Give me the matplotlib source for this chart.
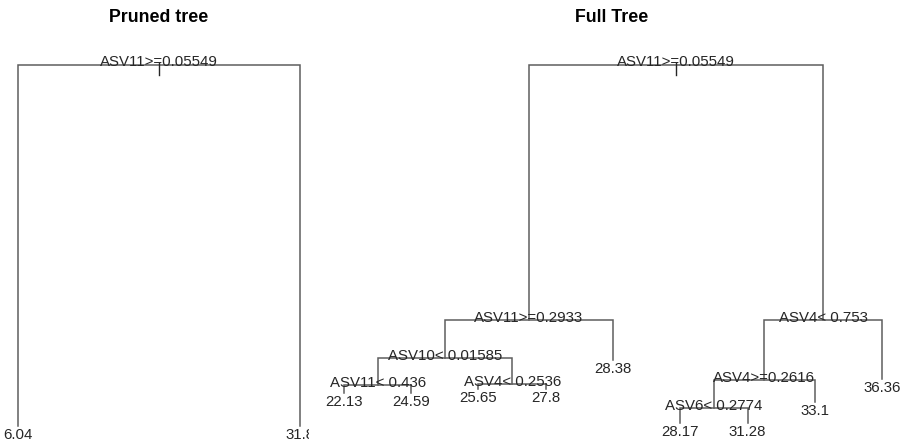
import matplotlib
matplotlib.use("Agg")
import matplotlib.pyplot as plt

plt.rcParams['font.family'] = ['Liberation Sans', 'DejaVu Sans']

W, H = 904, 444

# ---- tree data (rpart node numbering: children of n are 2n, 2n+1) ----
# node heights are the rpart (deviance based) heights,
# measured from the top of the figure
pruned_split_ids = [1]
pruned_split_labels = ["ASV11>=0.05549"]
pruned_leaf_ids = [2, 3]
pruned_leaf_values = ["6.04", "31.8"]
pruned_heights = {1: 65, 2: 426, 3: 426}

full_split_ids = [1, 2, 3, 4, 6, 8, 9, 12]
full_split_labels = ["ASV11>=0.05549", "ASV11>=0.2933", "ASV4< 0.753",
                     "ASV10< 0.01585", "ASV4>=0.2616", "ASV11< 0.436",
                     "ASV4< 0.2536", "ASV6< 0.2774"]
full_leaf_ids = [5, 7, 13, 16, 17, 18, 19, 24, 25]
full_leaf_values = ["28.38", "36.36", "33.1", "22.13", "24.59", "25.65",
                    "27.8", "28.17", "31.28"]
full_heights = {1: 65, 2: 320, 3: 320, 4: 358, 5: 360, 6: 380, 7: 379,
                8: 385, 9: 384, 12: 408, 13: 402, 16: 393, 17: 393,
                18: 389, 19: 389, 24: 423, 25: 423}

line_col = '#5e5e5e'
text_col = '#262626'
fs = 10.8


def layout_x(split_ids, leaf_ids):
    # leaves equally spaced in left-to-right order, parents at the midpoint
    xs = {}
    counter = [0]

    def walk(n):
        if n in leaf_ids:
            counter[0] += 1
            xs[n] = counter[0]
        else:
            walk(2 * n)
            walk(2 * n + 1)
            xs[n] = (xs[2 * n] + xs[2 * n + 1]) / 2.0
    walk(1)
    return xs


def draw_tree(ax, split_ids, split_labels, leaf_ids, leaf_values, heights):
    xs = layout_x(split_ids, leaf_ids)
    for n in split_ids:
        x, y = xs[n], heights[n]
        xl, xr = xs[2 * n], xs[2 * n + 1]
        ax.plot([xl, xl, xr, xr], [heights[2 * n], y, y, heights[2 * n + 1]],
                color=line_col, lw=1.1, solid_joinstyle='miter')
    for n, lab in zip(split_ids, split_labels):
        ax.text(xs[n], heights[n] + 1.5, lab, ha='center', va='baseline',
                fontsize=fs, color=text_col)
    for n, val in zip(leaf_ids, leaf_values):
        ax.text(xs[n], heights[n] + 2, val, ha='center', va='top',
                fontsize=fs, color=text_col, clip_on=True)
    # root marker "|"
    ax.plot([xs[1], xs[1]], [heights[1] - 2, heights[1] + 10],
            color=text_col, lw=1.0)
    return xs


fig = plt.figure(figsize=(W / 100, H / 100), dpi=100)

# pruned tree panel (plot region clips the right leaf label, as in R)
p_right = 309
ax1 = fig.add_axes([0, 0, p_right / W, 1])
draw_tree(ax1, pruned_split_ids, pruned_split_labels, pruned_leaf_ids,
          pruned_leaf_values, pruned_heights)
sc1 = 282.0
ax1.set_xlim(1 - 18 / sc1, 1 - 18 / sc1 + p_right / sc1)
ax1.set_ylim(H, 0)
ax1.axis('off')
fig.text(159 / W, 1 - 22 / H, "Pruned tree", ha='center', va='baseline',
         fontsize=12.8, fontweight='bold', color='black')

# full tree panel
ax2 = fig.add_axes([320 / W, 0, 584 / W, 1])
draw_tree(ax2, full_split_ids, full_split_labels, full_leaf_ids,
          full_leaf_values, full_heights)
sc2 = (882 - 344) / 8.0
ax2.set_xlim(1 - 24 / sc2, 1 - 24 / sc2 + 584 / sc2)
ax2.set_ylim(H, 0)
ax2.axis('off')
fig.text(612 / W, 1 - 22 / H, "Full Tree", ha='center', va='baseline',
         fontsize=12.8, fontweight='bold', color='black')

fig.savefig('out.png', dpi=100)
